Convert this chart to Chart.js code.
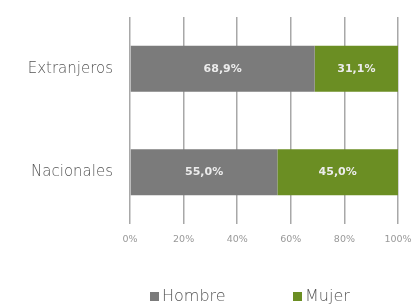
<!DOCTYPE html>
<html>
<head>
<meta charset="utf-8">
<script src="https://cdn.jsdelivr.net/npm/chart.js@4.4.1/dist/chart.umd.min.js"></script>
<style>
html,body{margin:0;padding:0;background:#fff;}
#wrap{position:relative;width:419px;height:307px;}
</style>
</head>
<body>
<div id="wrap"><canvas id="c" width="419" height="307"></canvas></div>
<script>
const categories = ["Extranjeros", "Nacionales"];
const seriesNames = ["Hombre", "Mujer"];
const hombre = [68.9, 55.0];
const mujer = [31.1, 45.0];
const xTicks = [0, 20, 40, 60, 80, 100];
const colors = ["#7b7b7b", "#6b8e23"];

const FONT = "'DejaVu Sans', sans-serif";

const barLabels = {
  id: 'barLabels',
  afterDatasetsDraw(chart) {
    const ctx = chart.ctx;
    ctx.save();
    ctx.font = "bold 11px " + FONT;
    ctx.fillStyle = "#ececec";
    ctx.textAlign = "center";
    ctx.textBaseline = "middle";
    chart.data.datasets.forEach((ds, di) => {
      chart.getDatasetMeta(di).data.forEach((el, i) => {
        const v = ds.data[i];
        const cx = (el.x + el.base) / 2;
        ctx.fillText(v.toFixed(1).replace('.', ',') + '%', cx, el.y);
      });
    });
    ctx.restore();
  }
};

const legendPlugin = {
  id: 'customLegend',
  afterDraw(chart) {
    const ctx = chart.ctx;
    ctx.save();
    ctx.font = "300 16px " + FONT;
    ctx.textBaseline = "middle";
    ctx.textAlign = "left";
    const y = 297;
    const starts = [150, 293];
    chart.data.datasets.forEach((ds, i) => {
      const x = starts[i];
      ctx.fillStyle = ds.backgroundColor;
      ctx.fillRect(x, y - 5, 9, 9);
      ctx.fillStyle = "#555555";
      ctx.fillText(ds.label, x + 12, y);
    });
    ctx.restore();
  }
};

new Chart(document.getElementById('c'), {
  type: 'bar',
  data: {
    labels: categories,
    datasets: [
      { label: seriesNames[0], data: hombre, backgroundColor: colors[0] },
      { label: seriesNames[1], data: mujer, backgroundColor: colors[1] }
    ]
  },
  options: {
    indexAxis: 'y',
    responsive: false,
    animation: false,
    devicePixelRatio: 1,
    layout: { padding: { top: 17, right: 21, bottom: 53, left: 0 } },
    datasets: { bar: { barPercentage: 0.9, categoryPercentage: 0.495 } },
    plugins: { legend: { display: false }, tooltip: { enabled: false } },
    scales: {
      x: {
        stacked: true,
        min: 0, max: 100,
        afterBuildTicks(scale) { scale.ticks = xTicks.map(v => ({ value: v })); },
        afterFit(scale) { scale.height = 30; scale.paddingLeft = 0; scale.paddingRight = 0; },
        grid: { color: '#a8a8a8', lineWidth: 1.5, drawTicks: false },
        border: { display: false },
        ticks: {
          padding: 10,
          color: '#999999',
          font: { family: FONT, size: 9.5 },
          callback: v => v + '%'
        }
      },
      y: {
        stacked: true,
        afterFit(scale) { scale.width = 130; scale.paddingTop = 0; scale.paddingBottom = 0; },
        grid: { display: false, drawTicks: false },
        border: { display: false },
        ticks: {
          padding: 17,
          color: '#555555',
          font: { family: FONT, size: 15, weight: 300 }
        }
      }
    }
  },
  plugins: [barLabels, legendPlugin]
});
</script>
</body>
</html>
